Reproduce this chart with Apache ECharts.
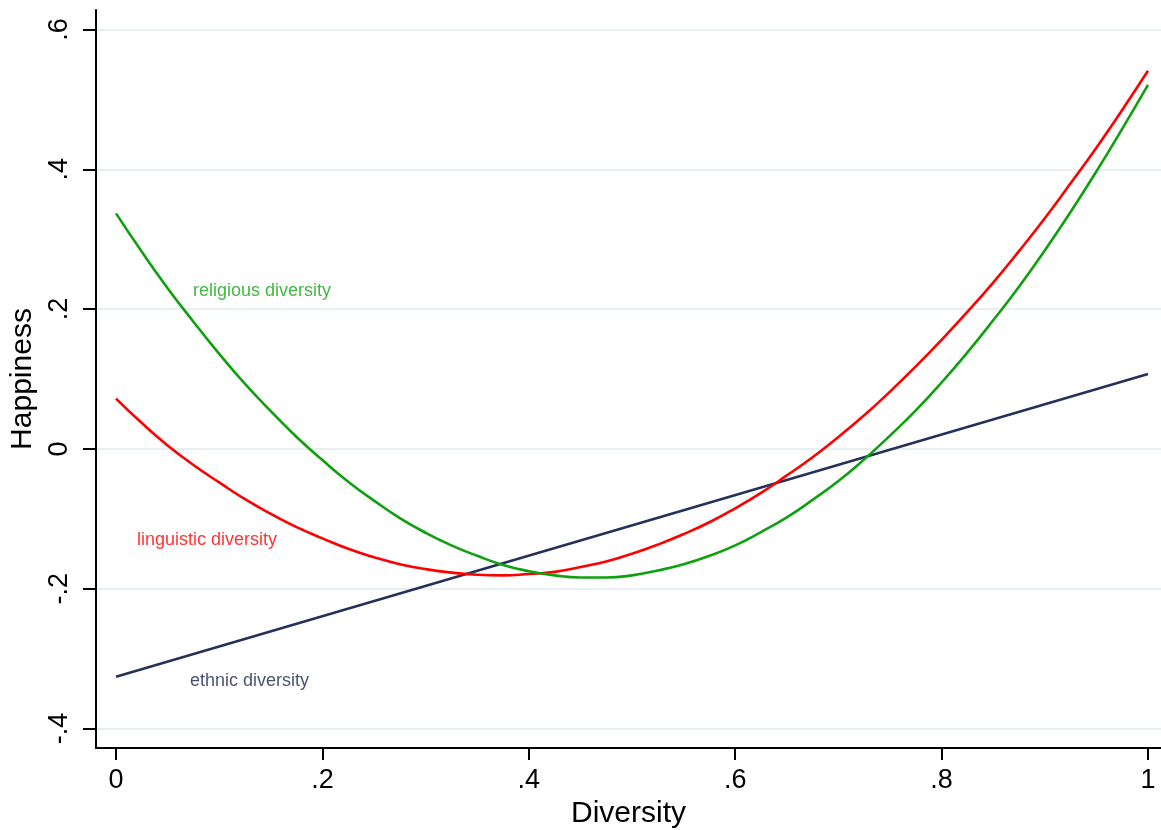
<!DOCTYPE html>
<html>
<head>
<meta charset="utf-8">
<script src="https://cdn.jsdelivr.net/npm/echarts@6/dist/echarts.min.js"></script>
<style>
html,body{margin:0;padding:0;background:#fff;}
#chart{width:1161px;height:830px;}
</style>
</head>
<body>
<div id="chart"></div>
<script>
const xValues = [0,0.025,0.05,0.075,0.1,0.125,0.15,0.175,0.2,0.225,0.25,0.275,0.3,0.325,0.35,0.375,0.4,0.425,0.45,0.475,0.5,0.525,0.55,0.575,0.6,0.625,0.65,0.675,0.7,0.725,0.75,0.775,0.8,0.825,0.85,0.875,0.9,0.925,0.95,0.975,1];
const linguistic = [0.072,0.037,0.005,-0.023,-0.048,-0.072,-0.093,-0.112,-0.128,-0.143,-0.155,-0.165,-0.172,-0.177,-0.180,-0.181,-0.179,-0.176,-0.169,-0.161,-0.150,-0.137,-0.122,-0.105,-0.085,-0.063,-0.038,-0.012,0.017,0.048,0.082,0.118,0.156,0.196,0.238,0.283,0.330,0.380,0.431,0.485,0.541];
const religious = [0.337,0.282,0.230,0.182,0.136,0.093,0.054,0.017,-0.016,-0.047,-0.074,-0.099,-0.120,-0.138,-0.153,-0.166,-0.175,-0.181,-0.184,-0.184,-0.181,-0.174,-0.165,-0.153,-0.138,-0.119,-0.098,-0.073,-0.046,-0.015,0.019,0.055,0.095,0.138,0.184,0.232,0.284,0.339,0.397,0.458,0.521];
const ethnicX = [0,1];
const ethnic = [-0.326,0.107];
const xTicks = [0,0.2,0.4,0.6,0.8,1];
const yTicks = [-0.4,-0.2,0,0.2,0.4,0.6];
const seriesNames = ['linguistic diversity','religious diversity','ethnic diversity'];
const labelX = [0.0203,0.0746,0.0717];
const labelY = [-0.130,0.226,-0.332];
const colors = ['#ff0000','#0fa00f','#26305a'];
const labelColors = ['#ff0000','#10a810','#18224f'];

function fmt(v){
  if (Math.abs(v) < 1e-9) return '0';
  if (Math.abs(v - 1) < 1e-9) return '1';
  let s = String(Math.round(v*10)/10);
  return s.replace('0.', '.');
}

const font = '"Liberation Sans", Arial, Helvetica, sans-serif';
const chart = echarts.init(document.getElementById('chart'));
const zip = (xs, ys) => xs.map((x,i)=>[x, ys[i]]);

chart.setOption({
  animation: false,
  backgroundColor: '#ffffff',
  textStyle: {fontFamily: font},
  grid: {left: 96, top: 10, right: 0, bottom: 82, containLabel: false, outerBoundsMode: 'none'},
  xAxis: {
    type: 'value', min: -0.0194, max: 1.0126,
    name: 'Diversity', nameLocation: 'middle', nameGap: 45,
    nameTextStyle: {fontSize: 30, color: '#000', fontFamily: font},
    axisLine: {show: true, onZero: false, lineStyle: {color: '#000', width: 2}},
    axisTick: {show: true, length: 12, lineStyle: {color: '#000', width: 2}, customValues: xTicks},
    axisLabel: {show: true, fontSize: 27, color: '#000', margin: 19, customValues: xTicks, formatter: fmt, fontFamily: font},
    splitLine: {show: false}
  },
  yAxis: {
    type: 'value', min: -0.428, max: 0.628,
    name: 'Happiness', nameLocation: 'middle', nameGap: 58, nameRotate: 90,
    nameTextStyle: {fontSize: 30, color: '#000', fontFamily: font},
    axisLine: {show: true, onZero: false, lineStyle: {color: '#000', width: 2}},
    axisTick: {show: true, length: 13, lineStyle: {color: '#000', width: 2}, customValues: yTicks},
    axisLabel: {show: true, fontSize: 27, color: '#000', margin: 23, rotate: 90, customValues: yTicks, formatter: fmt, fontFamily: font},
    splitLine: {show: false}
  },
  series: [
    {
      name: 'grid', type: 'line', data: [], silent: true, z: 0,
      markLine: {
        silent: true, symbol: 'none', animation: false, z: 0,
        label: {show: false},
        lineStyle: {color: '#e8f0f2', width: 2, type: 'solid'},
        data: yTicks.map(v => ({yAxis: v}))
      }
    },
    {name: seriesNames[2], type: 'line', data: zip(ethnicX, ethnic), showSymbol: false,
     lineStyle: {color: colors[2], width: 2.6}, itemStyle: {color: colors[2]}, z: 3},
    {name: seriesNames[0], type: 'line', data: zip(xValues, linguistic), smooth: true, showSymbol: false,
     lineStyle: {color: colors[0], width: 2.6}, itemStyle: {color: colors[0]}, z: 4},
    {name: seriesNames[1], type: 'line', data: zip(xValues, religious), smooth: true, showSymbol: false,
     lineStyle: {color: colors[1], width: 2.6}, itemStyle: {color: colors[1]}, z: 5},
    {
      name: 'labels', type: 'scatter', symbolSize: 0, silent: true, z: 6,
      data: seriesNames.map((n,i) => ({
        value: [labelX[i], labelY[i]], name: n,
        label: {show: true, formatter: n, position: 'right', distance: 0,
                fontSize: 18, color: labelColors[i], textBorderWidth: 0, fontFamily: font}
      }))
    }
  ]
});
</script>
</body>
</html>
